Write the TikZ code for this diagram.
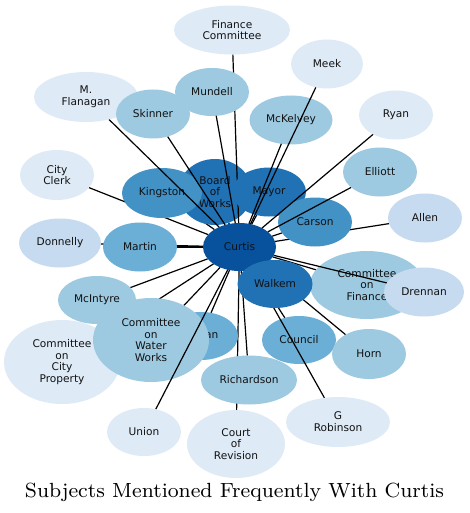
\documentclass[tikz,border=0pt]{standalone}
\usepackage{fontspec}
\newfontfamily\nodefnt{DejaVu Sans}
\newfontfamily\titlefnt{lmroman8-regular.otf}
\usetikzlibrary{shapes.geometric}
\definecolor{cA}{HTML}{DEEBF7}
\definecolor{cB}{HTML}{C6DBEF}
\definecolor{cC}{HTML}{9ECAE1}
\definecolor{cD}{HTML}{6BAED6}
\definecolor{cE}{HTML}{4292C6}
\definecolor{cF}{HTML}{2171B5}
\definecolor{cG}{HTML}{08519C}
\definecolor{txt}{HTML}{111111}
\pgfdeclarelayer{bg}
\pgfdeclarelayer{eA}
\pgfdeclarelayer{nB}
\pgfdeclarelayer{eC}
\pgfdeclarelayer{nD}
\pgfdeclarelayer{eE}
\pgfsetlayers{bg,eA,nB,eC,nD,eE,main}
\tikzset{
  bub/.style n args={3}{ellipse, inner sep=0pt, outer sep=0pt,
    minimum width=#1, minimum height=#2, fill=#3, text=txt, align=center,
    font=\nodefnt\fontsize{10.6}{11.8}\selectfont},
  edge/.style={draw=black, line width=1.2pt},
}
\begin{document}
\begin{tikzpicture}[x=1pt,y=-1pt]
\begin{pgfonlayer}{bg}
\fill[white] (0,0) rectangle (469,513);
\end{pgfonlayer}
\useasboundingbox (0,0) rectangle (469,513);

% ---- node layer B ----
\begin{pgfonlayer}{nB}
\node[bub={116pt}{84pt}{cA}] (cocp) at (62,362) {Committee\\on\\City\\Property};
\node[bub={78pt}{48pt}{cC}] (mcintyre) at (97,300) {McIntyre};
\node[bub={74pt}{48pt}{cD}] (an) at (201,336) {};
\node[inner sep=0pt, anchor=west, text=txt, font=\nodefnt\fontsize{10.6}{11.8}\selectfont] (antext) at (205,335.5) {an};
\node[bub={116pt}{84pt}{cC}] (coww) at (151,340) {Committee\\on\\Water\\Works};
\node[bub={74pt}{66pt}{cF}] (bow) at (215,192) {Board\\of\\Works};
\node[bub={80pt}{50pt}{cE}] (kingston) at (162,193) {Kingston};
\node[bub={74pt}{49pt}{cD}] (martin) at (140,247) {Martin};
\node[bub={74pt}{48pt}{cD}] (council) at (299,340) {Council};
\node[bub={96pt}{49pt}{cC}] (richardson) at (249,380) {Richardson};
\node[bub={83pt}{49pt}{cC}] (mckelvey) at (291,120) {McKelvey};
\node[bub={114pt}{68pt}{cC}] (cof) at (367,285) {Committee\\on\\Finance};
\end{pgfonlayer}

% ---- node layer D ----
\begin{pgfonlayer}{nD}
\node[bub={74pt}{49pt}{cF}] (mayor) at (269,192) {Mayor};
\node[bub={74pt}{48pt}{cC}] (mundell) at (212,92) {Mundell};
\node[bub={74pt}{49pt}{cE}] (carson) at (315,222) {Carson};
\node[bub={73pt}{48pt}{cG}] (curtis) at (239.5,247) {Curtis};
\node[bub={75pt}{48pt}{cF}] (walkem) at (275,284) {Walkem};
\end{pgfonlayer}

% ---- top node layer ----
\node[bub={116pt}{49pt}{cA}] (fc) at (232,30) {Finance\\Committee};
\node[bub={72pt}{49pt}{cA}] (meek) at (327,64) {Meek};
\node[bub={104pt}{50pt}{cA}] (mflan) at (86,97) {M.\\Flanagan};
\node[bub={74pt}{49pt}{cC}] (skinner) at (153,114) {Skinner};
\node[bub={74pt}{49pt}{cA}] (ryan) at (396,115) {Ryan};
\node[bub={74pt}{50pt}{cA}] (cityclerk) at (57,175) {City\\Clerk};
\node[bub={74pt}{49pt}{cC}] (elliott) at (380,172) {Elliott};
\node[bub={74pt}{49pt}{cB}] (allen) at (425,218) {Allen};
\node[bub={82pt}{49pt}{cB}] (donnelly) at (60,243) {Donnelly};
\node[bub={80pt}{49pt}{cB}] (drennan) at (424,292) {Drennan};
\node[bub={74pt}{50pt}{cC}] (horn) at (369,354) {Horn};
\node[bub={104pt}{50pt}{cA}] (grob) at (338,422) {G\\Robinson};
\node[bub={74pt}{48pt}{cA}] (union) at (144,432) {Union};
\node[bub={98pt}{68pt}{cA}] (cor) at (236,444) {Court\\of\\Revision};

\node[anchor=base, inner sep=0pt, font=\titlefnt\fontsize{20.5}{24}\selectfont] (title) at (234.5,497) {Subjects Mentioned Frequently With Curtis};

% ---- edge layer A ----
\begin{pgfonlayer}{eA}
\foreach \t in {cityclerk,donnelly,allen,cor,council,cocp,kingston,martin,carson,mayor,bow,walkem,an,coww,mcintyre,richardson,cof,horn}
  \draw[edge] (curtis) -- (\t);
\end{pgfonlayer}

% ---- edge layer C ----
\begin{pgfonlayer}{eC}
\foreach \t in {fc,grob}
  \draw[edge] (curtis) -- (\t);
\end{pgfonlayer}

% ---- edge layer E ----
\begin{pgfonlayer}{eE}
\foreach \t in {mflan,skinner,mundell,meek,mckelvey,elliott,ryan,drennan,union}
  \draw[edge] (curtis) -- (\t);
\end{pgfonlayer}
\end{tikzpicture}
\end{document}
